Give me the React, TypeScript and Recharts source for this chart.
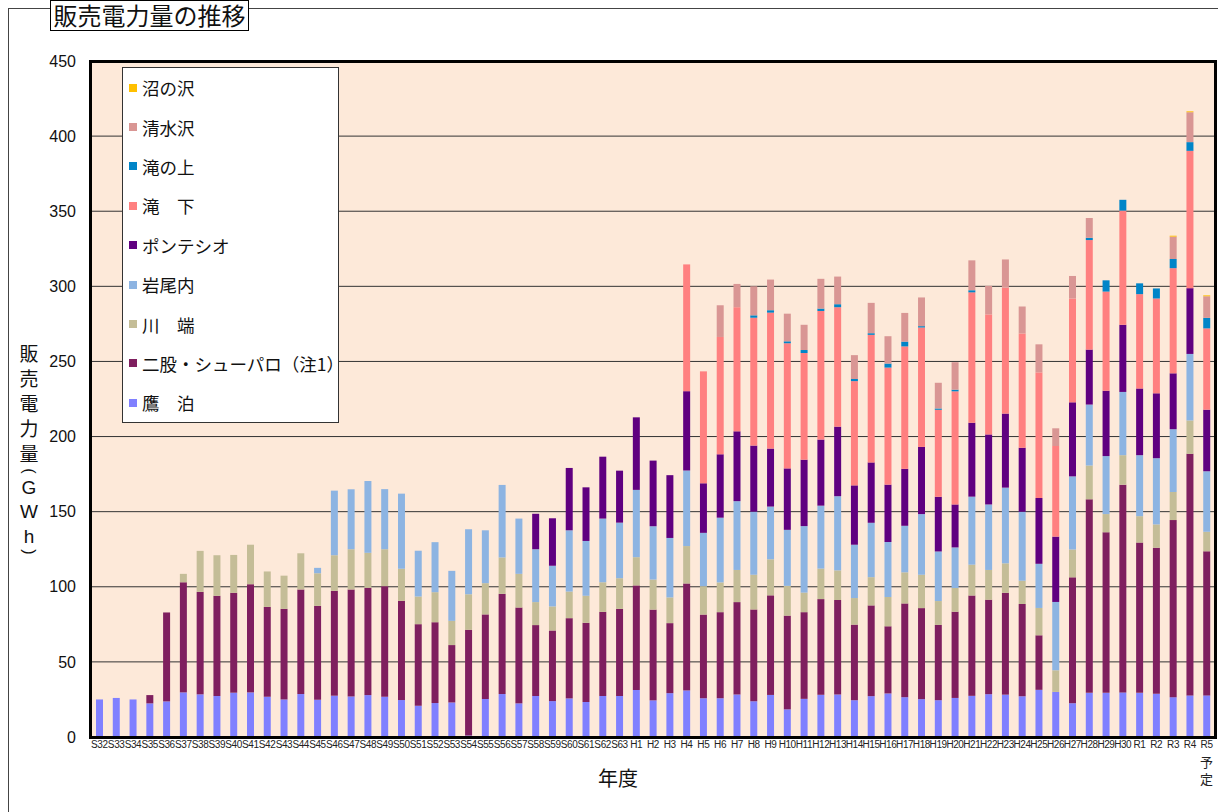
import React from 'react'
import { BarChart, Bar, XAxis, YAxis, CartesianGrid } from 'recharts'

const years = [
  'S32', 'S33', 'S34', 'S35', 'S36', 'S37', 'S38', 'S39', 'S40', 'S41', 'S42', 'S43', 'S44', 'S45', 'S46', 'S47',
  'S48', 'S49', 'S50', 'S51', 'S52', 'S53', 'S54', 'S55', 'S56', 'S57', 'S58', 'S59', 'S60', 'S61', 'S62', 'S63',
  'H1', 'H2', 'H3', 'H4', 'H5', 'H6', 'H7', 'H8', 'H9', 'H10', 'H11', 'H12', 'H13', 'H14', 'H15', 'H16', 'H17',
  'H18', 'H19', 'H20', 'H21', 'H22', 'H23', 'H24', 'H25', 'H26', 'H27', 'H28', 'H29', 'H30',
  'R1', 'R2', 'R3', 'R4', 'R5',
]
// text stacked under a tick label
const tickNotes: Record<string, string> = { R5: '予定' }

const yTicks = [0, 50, 100, 150, 200, 250, 300, 350, 400, 450]

// GWh, S32..S63 | H1..H30 | R1..R5
const takadomari = [
  25, 26, 25, 22.4, 23.7, 29.7, 28.4, 27.3, 29.5, 29.7, 26.8, 25, 28.6, 24.8, 27.5, 27,
  27.9, 26.8, 24.6, 20.8, 22.6, 23, 1, 25.3, 28.6, 22.4, 27.3, 23.9, 25.7, 23.3, 27.3, 27.3,
  31.3, 24.4, 29.2, 31, 25.8, 25.8, 28.3, 23.8, 28, 18.4, 25.4, 28.1, 28.3, 24.5, 27.2, 29, 26.5,
  25.2, 24.5, 26, 27.4, 28.5, 28.2, 27.1, 31.4, 30, 22.5, 29.4, 29.4, 29.7,
  29.4, 28.8, 26.5, 27.7, 27.7,
]
const futamata = [
  0, 0, 0, 5.5, 59.2, 73.3, 68.2, 66.7, 66.5, 72, 59.8, 60.3, 69.6, 62.5, 69.8, 71.2,
  71.4, 73.6, 66, 54.3, 53.8, 38.2, 70.4, 56.3, 66.7, 63.8, 47.2, 47, 53.4, 52.7, 56, 58,
  69.6, 60.4, 46.6, 71.2, 55.7, 57.3, 61.5, 61.1, 66.3, 62.4, 57.7, 63.7, 62.9, 50.3, 60.4, 44.7, 62.4,
  60.6, 50.1, 57.4, 66.8, 62.9, 67.8, 61.4, 36.3, 0, 83.8, 128.8, 106.9, 138.3,
  100, 97.2, 117.9, 160.8, 95.9,
]
const kawabata = [
  0, 0, 0, 0, 0, 5.6, 27.3, 27, 25.2, 26.3, 23.6, 22.1, 24.1, 21.7, 23.7, 26.8,
  23.3, 24.6, 21.4, 18.4, 20, 16.1, 23.6, 20.8, 24.2, 22.4, 15.3, 16, 17.7, 18, 19.7, 20.4,
  18.8, 20, 17.1, 24.9, 18.9, 19.8, 21.4, 23.1, 24, 19.8, 13, 20.3, 19.7, 17.7, 18.8, 19.5, 20.7,
  22.2, 15.9, 15.8, 20.5, 19.8, 19.6, 15.5, 18.2, 14.4, 18.5, 22.5, 12.1, 19.6,
  17.6, 15.5, 18.7, 22.2, 13,
]
const iwaonai = [
  0, 0, 0, 0, 0, 0, 0, 0, 0, 0, 0, 0, 0, 3.6, 43, 39.9,
  47.8, 40, 50, 30.5, 33.3, 33.3, 43.3, 35.2, 48.3, 36.8, 35.2, 27.1, 40.8, 36.5, 42.4, 37,
  44.8, 35.5, 39.6, 50.3, 35.5, 43.1, 45.8, 42, 35.1, 37.3, 44.3, 41.9, 49.4, 35.5, 36.2, 36.6, 31,
  40.4, 33, 27, 45.3, 43.6, 50.4, 45.9, 29.4, 45.5, 48.7, 40.6, 38.6, 42.1,
  40.6, 44.1, 41.8, 44.3, 40.3,
]
const pontesio = [
  0, 0, 0, 0, 0, 0, 0, 0, 0, 0, 0, 0, 0, 0, 0, 0,
  0, 0, 0, 0, 0, 0, 0, 0, 0, 0, 23.6, 31.6, 41.5, 35.7, 41.2, 34.6,
  48.3, 43.7, 41.8, 52.8, 33, 42.2, 46.5, 44, 38.6, 40.9, 44.2, 44, 46.3, 39.5, 40.2, 38.2, 37.9,
  44.7, 36.4, 28.6, 49.2, 46.6, 49.3, 42.6, 43.8, 43.5, 49.3, 36.6, 43.5, 44.7,
  44.4, 43.2, 37.2, 43.8, 41,
]
const takishita = [
  0, 0, 0, 0, 0, 0, 0, 0, 0, 0, 0, 0, 0, 0, 0, 0,
  0, 0, 0, 0, 0, 0, 0, 0, 0, 0, 0, 0, 0, 0, 0, 0,
  0, 0, 0, 84.4, 74.5, 78.1, 82.6, 85.1, 90.5, 83.3, 71, 85.6, 79.5, 69.4, 84.9, 77.9, 81.5,
  79.5, 57.9, 75.3, 86.8, 79.9, 83.8, 76.1, 83.6, 60.3, 69.1, 72.9, 66, 76,
  62.8, 63.1, 70, 91.4, 54.1,
]
const takinoue = [
  0, 0, 0, 0, 0, 0, 0, 0, 0, 0, 0, 0, 0, 0, 0, 0,
  0, 0, 0, 0, 0, 0, 0, 0, 0, 0, 0, 0, 0, 0, 0, 0,
  0, 0, 0, 0, 0, 0, 0, 1.6, 1.6, 1.3, 2, 1.6, 2, 1.4, 1.1, 2.7, 3.2,
  0.9, 0.9, 1.1, 1.4, 0, 0, 0, 0, 0, 0, 1.5, 7.5, 7.2,
  7.2, 6.7, 6.1, 5.8, 7,
]
const shimizusawa = [
  0, 0, 0, 0, 0, 0, 0, 0, 0, 0, 0, 0, 0, 0, 0, 0,
  0, 0, 0, 0, 0, 0, 0, 0, 0, 0, 0, 0, 0, 0, 0, 0,
  0, 0, 0, 0, 0, 21.1, 15.5, 19.3, 20.4, 18.4, 16.8, 19.8, 18.4, 15.9, 20.2, 18.2, 19.1,
  19.1, 17.1, 18.3, 19.9, 19, 18.8, 17.9, 18.7, 11.8, 15, 13.2, 0, 0,
  0, 0, 14.9, 19.9, 14.4,
]
const numanosawa = [
  0, 0, 0, 0, 0, 0, 0, 0, 0, 0, 0, 0, 0, 0, 0, 0,
  0, 0, 0, 0, 0, 0, 0, 0, 0, 0, 0, 0, 0, 0, 0, 0,
  0, 0, 0, 0, 0, 0, 0, 0, 0, 0, 0, 0, 0, 0, 0, 0, 0,
  0, 0, 0, 0, 0, 0, 0, 0, 0, 0, 0, 0, 0,
  0, 0, 0.6, 0.6, 0.6,
]

// stack order, bottom first
const series = [
  { key: 'takadomari', name: '鷹　泊', color: '#8080FF', values: takadomari },
  { key: 'futamata', name: '二股・シューパロ（注1）', color: '#7F1F5F', values: futamata },
  { key: 'kawabata', name: '川　端', color: '#C4BD97', values: kawabata },
  { key: 'iwaonai', name: '岩尾内', color: '#8DB4E2', values: iwaonai },
  { key: 'pontesio', name: 'ポンテシオ', color: '#600080', values: pontesio },
  { key: 'takishita', name: '滝　下', color: '#FF8080', values: takishita },
  { key: 'takinoue', name: '滝の上', color: '#0085C8', values: takinoue },
  { key: 'shimizusawa', name: '清水沢', color: '#D99694', values: shimizusawa },
  { key: 'numanosawa', name: '沼の沢', color: '#FFC000', values: numanosawa },
]

const data = years.map((year, i) => {
  const row: Record<string, string | number> = { year }
  series.forEach(s => { row[s.key] = s.values[i] })
  return row
})

const jp = '"Noto Sans CJK JP", "Noto Sans", sans-serif'
const latin = '"Liberation Sans", Arial, sans-serif'

function YearTick({ x, y, payload }: any) {
  const note = tickNotes[payload.value]
  return (
    <g>
      <text x={x} y={y + 11} textAnchor="middle" fontSize={10} letterSpacing={-0.4} fontFamily={latin} fill="#222">
        {payload.value}
      </text>
      {note && note.split('').map((c, i) => (
        <text key={i} x={x} y={y + 30 + i * 17} textAnchor="middle" fontSize={13} fontFamily={jp} fill="#222">{c}</text>
      ))}
    </g>
  )
}

// vertical axis title, one glyph per row: [glyph, row height, kind]
// 'p' = parenthesis turned sideways, 'l' = latin letter
const yTitle: [string, number, string][] = [
  ['販', 25, 'j'], ['売', 25, 'j'], ['電', 25, 'j'], ['力', 25, 'j'], ['量', 25, 'j'],
  ['(', 11, 'p'], ['G', 24, 'l'], ['W', 24, 'l'], ['h', 25, 'l'], [')', 6, 'p'],
]

export default function App() {
  return (
    <div style={{ position: 'absolute', left: 0, top: 0, width: 1218, height: 812, overflow: 'hidden', background: '#fff', fontFamily: jp }}>
      {/* outer frame */}
      <div style={{ position: 'absolute', left: 8, top: 8, width: 1400, height: 1000, border: '1px solid #444' }} />

      <BarChart
        width={1218}
        height={812}
        data={data}
        margin={{ top: 61, right: 3, bottom: 45, left: 31 }}
        barCategoryGap={0}
        style={{ position: 'absolute', left: 0, top: 0 }}
      >
        <CartesianGrid vertical={false} stroke="#333" fill="#FDE9D9" />
        <XAxis
          dataKey="year"
          interval={0}
          height={30}
          axisLine={false}
          tickLine={false}
          tickSize={0}
          tickMargin={0}
          tick={<YearTick />}
        />
        <YAxis
          width={60}
          domain={[0, 450]}
          ticks={yTicks}
          axisLine={false}
          tickLine={false}
          tickSize={0}
          tickMargin={15}
          tick={{ fontSize: 16, fill: '#111', fontFamily: latin }}
        />
        {series.map(s => (
          <Bar key={s.key} dataKey={s.key} name={s.name} stackId="total" fill={s.color} barSize={7} isAnimationActive={false} />
        ))}
      </BarChart>

      {/* plot border */}
      <div style={{ position: 'absolute', left: 89, top: 60, width: 1128, height: 679, border: '3px solid #000', boxSizing: 'border-box', pointerEvents: 'none' }} />

      {/* title */}
      <div style={{
        position: 'absolute', left: 50, top: 0, width: 199, height: 31, boxSizing: 'border-box',
        border: '1.5px solid #000', background: '#fff', fontSize: 24, lineHeight: '27px', textAlign: 'center', color: '#111',
      }}>
        販売電力量の推移
      </div>

      {/* y axis title */}
      <div style={{ position: 'absolute', left: 17, top: 340, width: 24, display: 'flex', flexDirection: 'column', alignItems: 'center', color: '#111' }}>
        {yTitle.map(([c, h, kind], i) => (
          <div key={i} style={{ height: h, display: 'flex', alignItems: 'center', justifyContent: 'center', width: 24 }}>
            {kind === 'p' ? (
              <span style={{ display: 'inline-block', transform: 'rotate(90deg)', fontFamily: latin, fontSize: 16, lineHeight: '16px' }}>{c}</span>
            ) : (
              <span style={{ fontFamily: kind === 'l' ? latin : jp, fontSize: 19, lineHeight: '20px' }}>{c}</span>
            )}
          </div>
        ))}
      </div>

      {/* x axis title */}
      <div style={{ position: 'absolute', left: 568, width: 100, top: 764, lineHeight: '28px', textAlign: 'center', fontSize: 20, color: '#111' }}>
        年度
      </div>

      {/* legend, top of stack first */}
      <div style={{
        position: 'absolute', left: 122, top: 67, width: 217, height: 356, boxSizing: 'border-box',
        border: '1px solid #333', background: '#fff',
      }}>
        {[...series].reverse().map(s => (
          <div key={s.key} style={{ height: 39.4, display: 'flex', alignItems: 'center', paddingLeft: 6 }}>
            <span style={{ width: 8, height: 8, background: s.color, marginRight: 5, flex: 'none' }} />
            <span style={{ fontSize: 17.5, color: '#111', whiteSpace: 'nowrap' }}>{s.name}</span>
          </div>
        ))}
      </div>
    </div>
  )
}
